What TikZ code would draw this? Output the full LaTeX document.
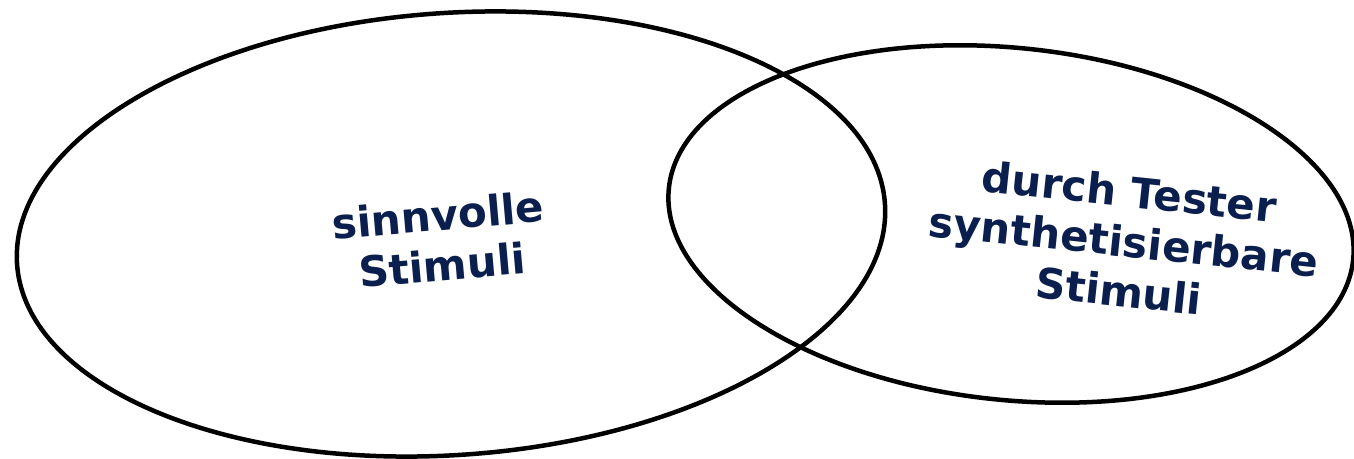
\documentclass[tikz,border=0pt]{standalone}
\usepackage{fontspec}
\setmainfont{DejaVu Sans}
\definecolor{navy}{HTML}{0A1F4E}
\begin{document}
\begin{tikzpicture}[
  setline/.style={line width=4.5pt, black},
  lbl/.style={text=navy, font=\bfseries\fontsize{42}{50}\selectfont, align=center, inner sep=0pt}
]
\useasboundingbox (0pt,0pt) rectangle (1354pt,-458pt);
\coordinate (cl) at (451pt,-234pt);
\coordinate (cr) at (1011pt,-224pt);
\draw[setline, rotate around={4:(cl)}] (cl) ellipse [x radius=435pt, y radius=221pt];
\draw[setline, rotate around={-6:(cr)}] (cr) ellipse [x radius=344pt, y radius=176pt];
\node[lbl, rotate=5] (tl) at (440pt,-240pt) {sinnvolle\\Stimuli};
\node[lbl, rotate=-6] (tr) at (1124pt,-241pt) {durch Tester\\synthetisierbare\\Stimuli};
\end{tikzpicture}
\end{document}
